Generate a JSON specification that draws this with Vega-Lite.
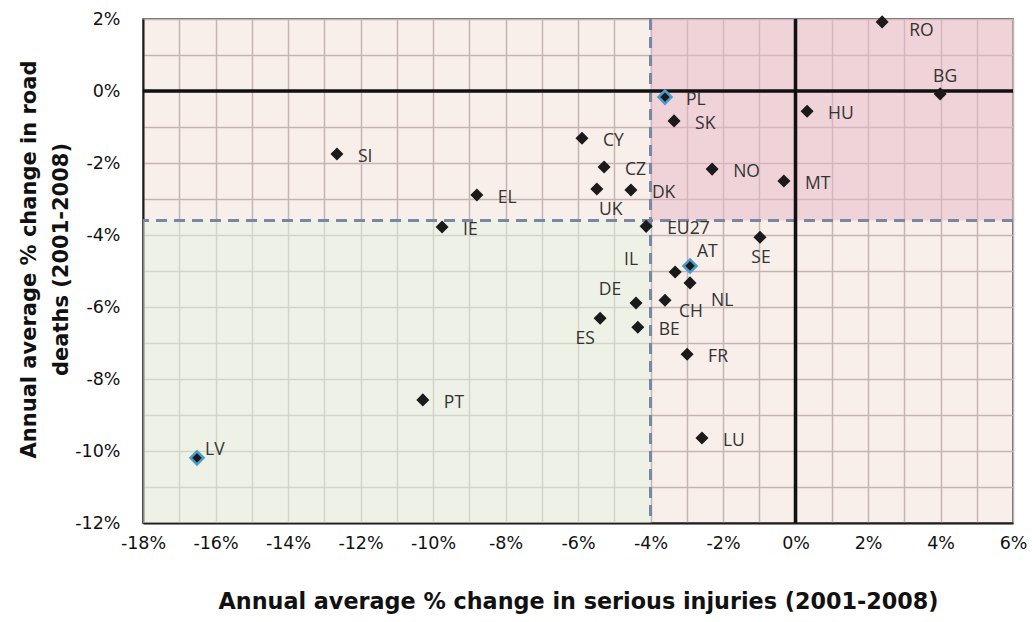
{
  "$schema": "https://vega.github.io/schema/vega-lite/v6.json",
  "width": 870,
  "height": 504,
  "autosize": {"type": "none"},
  "padding": {"left": 143, "top": 19, "right": 19, "bottom": 99},
  "background": "#ffffff",
  "config": {
    "view": {"stroke": "#3a3a3a", "strokeWidth": 1.5, "fill": "#f8efea"},
    "axis": {
      "gridColor": "#c4b4b2",
      "gridWidth": 1.5,
      "gridOpacity": 1,
      "ticks": false,
      "domainColor": "#1e1e1e",
      "domainWidth": 2,
      "labelFont": "DejaVu Sans",
      "labelFontSize": 17.5,
      "labelColor": "#111111",
      "labelOverlap": false,
      "labelFlush": false,
      "titleFont": "DejaVu Sans",
      "titleFontWeight": "bold",
      "titleColor": "#111111"
    }
  },
  "datasets": {
    "zones": [
      {"zone": "low", "x": -18, "x2": -4, "y": -12, "y2": -3.6},
      {"zone": "high", "x": -4, "x2": 6, "y": -3.6, "y2": 2}
    ],
    "pts": [
      {"c": "RO", "x": 2.39, "y": 1.92},
      {"c": "BG", "x": 3.99, "y": -0.08},
      {"c": "HU", "x": 0.32, "y": -0.56},
      {"c": "PL", "x": -3.6, "y": -0.17},
      {"c": "SK", "x": -3.35, "y": -0.83},
      {"c": "CY", "x": -5.89, "y": -1.31},
      {"c": "CZ", "x": -5.28, "y": -2.11},
      {"c": "NO", "x": -2.3, "y": -2.17},
      {"c": "MT", "x": -0.32, "y": -2.5},
      {"c": "UK", "x": -5.48, "y": -2.72},
      {"c": "DK", "x": -4.54, "y": -2.75},
      {"c": "SI", "x": -12.65, "y": -1.75},
      {"c": "EL", "x": -8.79, "y": -2.89},
      {"c": "IE", "x": -9.75, "y": -3.78},
      {"c": "EU27", "x": -4.12, "y": -3.76},
      {"c": "SE", "x": -0.98, "y": -4.06},
      {"c": "AT", "x": -2.91, "y": -4.86},
      {"c": "IL", "x": -3.32, "y": -5.03},
      {"c": "NL", "x": -2.91, "y": -5.33},
      {"c": "DE", "x": -4.4, "y": -5.89},
      {"c": "CH", "x": -3.6, "y": -5.81},
      {"c": "ES", "x": -5.39, "y": -6.31},
      {"c": "BE", "x": -4.35, "y": -6.56},
      {"c": "FR", "x": -2.99, "y": -7.31},
      {"c": "LU", "x": -2.58, "y": -9.64},
      {"c": "PT", "x": -10.28, "y": -8.58},
      {"c": "LV", "x": -16.51, "y": -10.19}
    ]
  },
  "layer": [
    {
      "data": {"name": "zones"},
      "mark": {"type": "rect", "opacity": 0.5},
      "encoding": {
        "x": {
          "field": "x", "type": "quantitative",
          "scale": {"domain": [-18, 6], "nice": false, "zero": false},
          "axis": {
            "values": [-18,-17,-16,-15,-14,-13,-12,-11,-10,-9,-8,-7,-6,-5,-4,-3,-2,-1,0,1,2,3,4,5,6],
            "labelExpr": "datum.value % 2 == 0 ? datum.value + '%' : ''",
            "labelPadding": 11,
            "title": "Annual average % change in serious injuries (2001-2008)",
            "titleFontSize": 22.3,
            "titleY": 78,
            "titleBaseline": "middle"
          }
        },
        "x2": {"field": "x2"},
        "y": {
          "field": "y", "type": "quantitative",
          "scale": {"domain": [-12, 2], "nice": false, "zero": false},
          "axis": {
            "values": [-12,-11,-10,-9,-8,-7,-6,-5,-4,-3,-2,-1,0,1,2],
            "labelExpr": "datum.value % 2 == 0 ? datum.value + '%' : ''",
            "labelPadding": 23,
            "title": ["Annual average % change in road", "deaths (2001-2008)"],
            "titleFontSize": 21,
            "titleX": -114,
            "titleY": 240,
            "titleBaseline": "middle",
            "titleLineHeight": 32
          }
        },
        "y2": {"field": "y2"},
        "color": {
          "field": "zone", "type": "nominal",
          "scale": {"domain": ["low", "high"], "range": ["#e4f3e2", "#e8b7c6"]},
          "legend": null
        }
      }
    },
    {
      "data": {"values": [{}]},
      "mark": {"type": "rule", "stroke": "#7888a2", "strokeWidth": 3, "strokeDash": [11, 7]},
      "encoding": {"x": {"datum": -4, "type": "quantitative", "axis": {"values": [-18,-17,-16,-15,-14,-13,-12,-11,-10,-9,-8,-7,-6,-5,-4,-3,-2,-1,0,1,2,3,4,5,6]}}}
    },
    {
      "data": {"values": [{}]},
      "mark": {"type": "rule", "stroke": "#7888a2", "strokeWidth": 3, "strokeDash": [11, 7]},
      "encoding": {"y": {"datum": -3.6, "type": "quantitative", "axis": {"values": [-12,-11,-10,-9,-8,-7,-6,-5,-4,-3,-2,-1,0,1,2]}}}
    },
    {
      "data": {"values": [{}]},
      "mark": {"type": "rule", "stroke": "#111111", "strokeWidth": 3.5},
      "encoding": {"x": {"datum": 0, "type": "quantitative", "axis": {"values": [-18,-17,-16,-15,-14,-13,-12,-11,-10,-9,-8,-7,-6,-5,-4,-3,-2,-1,0,1,2,3,4,5,6]}}}
    },
    {
      "data": {"values": [{}]},
      "mark": {"type": "rule", "stroke": "#111111", "strokeWidth": 3.5},
      "encoding": {"y": {"datum": 0, "type": "quantitative", "axis": {"values": [-12,-11,-10,-9,-8,-7,-6,-5,-4,-3,-2,-1,0,1,2]}}}
    },
    {
      "data": {"name": "pts"},
      "encoding": {
        "x": {"field": "x", "type": "quantitative", "axis": {"values": [-18,-17,-16,-15,-14,-13,-12,-11,-10,-9,-8,-7,-6,-5,-4,-3,-2,-1,0,1,2,3,4,5,6]}},
        "y": {"field": "y", "type": "quantitative", "axis": {"values": [-12,-11,-10,-9,-8,-7,-6,-5,-4,-3,-2,-1,0,1,2]}},
        "text": {"field": "c"}
      },
      "layer": [
        {
          "mark": {"type": "point", "shape": "diamond", "filled": true, "size": 170, "color": "#1a1a1a", "opacity": 1},
          "encoding": {
            "stroke": {
              "condition": {"test": "indexof(['PL','AT','LV'], datum.c) >= 0", "value": "#4a9ccc"},
              "value": "#1a1a1a"
            },
            "strokeWidth": {
              "condition": {"test": "indexof(['PL','AT','LV'], datum.c) >= 0", "value": 2.5},
              "value": 0
            }
          }
        },
        {
          "transform": [{"filter": {"field": "c", "oneOf": ["HU","PL","SK","CY","CZ","NO","MT","DK","SI","EL","IE","EU27","BE","FR","LU","PT"]}}],
          "mark": {"type": "text", "align": "left", "baseline": "middle", "dx": 21, "dy": 3, "font": "Open Sans", "fontSize": 17.5, "color": "#333333"}
        },
        {
          "transform": [{"filter": {"field": "c", "equal": "RO"}}],
          "mark": {"type": "text", "align": "left", "baseline": "middle", "dx": 27, "dy": 9, "font": "Open Sans", "fontSize": 17.5, "color": "#333333"}
        },
        {
          "transform": [{"filter": {"field": "c", "equal": "BG"}}],
          "mark": {"type": "text", "align": "center", "baseline": "middle", "dx": 5, "dy": -17, "font": "Open Sans", "fontSize": 17.5, "color": "#333333"}
        },
        {
          "transform": [{"filter": {"field": "c", "equal": "UK"}}],
          "mark": {"type": "text", "align": "center", "baseline": "middle", "dx": 14, "dy": 21, "font": "Open Sans", "fontSize": 17.5, "color": "#333333"}
        },
        {
          "transform": [{"filter": {"field": "c", "equal": "SE"}}],
          "mark": {"type": "text", "align": "center", "baseline": "middle", "dx": 1, "dy": 21, "font": "Open Sans", "fontSize": 17.5, "color": "#333333"}
        },
        {
          "transform": [{"filter": {"field": "c", "equal": "ES"}}],
          "mark": {"type": "text", "align": "center", "baseline": "middle", "dx": -15, "dy": 21, "font": "Open Sans", "fontSize": 17.5, "color": "#333333"}
        },
        {
          "transform": [{"filter": {"field": "c", "equal": "AT"}}],
          "mark": {"type": "text", "align": "left", "baseline": "middle", "dx": 7, "dy": -14, "font": "Open Sans", "fontSize": 17.5, "color": "#333333"}
        },
        {
          "transform": [{"filter": {"field": "c", "equal": "IL"}}],
          "mark": {"type": "text", "align": "right", "baseline": "middle", "dx": -37, "dy": -12, "font": "Open Sans", "fontSize": 17.5, "color": "#333333"}
        },
        {
          "transform": [{"filter": {"field": "c", "equal": "DE"}}],
          "mark": {"type": "text", "align": "center", "baseline": "middle", "dx": -26, "dy": -13, "font": "Open Sans", "fontSize": 17.5, "color": "#333333"}
        },
        {
          "transform": [{"filter": {"field": "c", "equal": "NL"}}],
          "mark": {"type": "text", "align": "left", "baseline": "middle", "dx": 21, "dy": 18, "font": "Open Sans", "fontSize": 17.5, "color": "#333333"}
        },
        {
          "transform": [{"filter": {"field": "c", "equal": "CH"}}],
          "mark": {"type": "text", "align": "left", "baseline": "middle", "dx": 14, "dy": 12, "font": "Open Sans", "fontSize": 17.5, "color": "#333333"}
        },
        {
          "transform": [{"filter": {"field": "c", "equal": "LV"}}],
          "mark": {"type": "text", "align": "left", "baseline": "middle", "dx": 8, "dy": -8, "font": "Open Sans", "fontSize": 17.5, "color": "#333333"}
        }
      ]
    }
  ]
}
